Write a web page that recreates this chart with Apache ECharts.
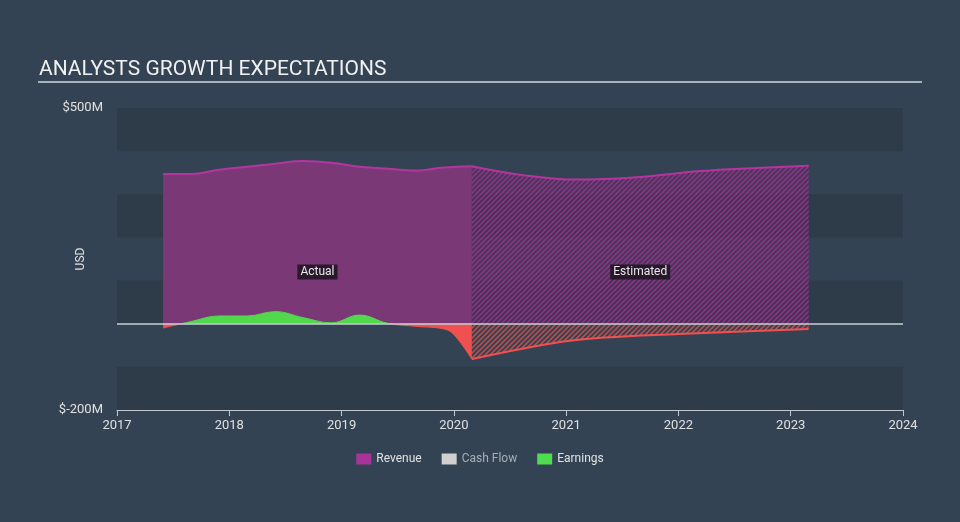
<!DOCTYPE html>
<html><head><meta charset="utf-8">
<script src="https://cdn.jsdelivr.net/npm/echarts@6/dist/echarts.min.js"></script>
<style>html,body{margin:0;padding:0;background:#344354;}#c{width:960px;height:522px;}</style>
</head><body><div id="c"></div>
<script>
// ---- data (USD millions, x = decimal year) ----
const revenueActualX = [2017.41, 2017.66, 2017.91, 2018.16, 2018.41, 2018.66, 2018.91, 2019.16, 2019.41, 2019.66, 2019.91, 2020.16];
const revenueActualY = [347, 347, 357, 364, 371, 377, 373, 364, 359, 355, 362, 365];
const revenueEstX = [2020.16, 2020.6, 2021.1, 2021.6, 2022.2, 2022.7, 2023.16];
const revenueEstY = [365, 345, 334, 339, 354, 361, 366];
const earningsActualX = [2017.41, 2017.66, 2017.91, 2018.16, 2018.41, 2018.66, 2018.91, 2019.16, 2019.41, 2019.66, 2019.91, 2020.0, 2020.16];
const earningsActualY = [-10, 5, 18, 18, 28, 14, 2, 20, 1, -6, -12, -25, -82];
const earningsEstX = [2020.16, 2021.05, 2022.0, 2023.16];
const earningsEstY = [-82, -39, -24, -12];
const xTicks = [2017, 2018, 2019, 2020, 2021, 2022, 2023, 2024];
const yLabels = {500: '$500M', '-200': '$-200M'};
const labelY = [120];

const pair = (xs, ys) => xs.map((x, i) => [x, ys[i]]);

function hatch(bg, fg) {
  const c = document.createElement('canvas');
  c.width = c.height = 5;
  const g = c.getContext('2d');
  if (bg) { g.fillStyle = bg; g.fillRect(0, 0, 5, 5); }
  g.strokeStyle = fg; g.lineWidth = 1.5;
  g.beginPath();
  g.moveTo(-1, 6); g.lineTo(6, -1);
  g.moveTo(-1, 1); g.lineTo(1, -1);
  g.moveTo(4, 6); g.lineTo(6, 4);
  g.stroke();
  return {image: c, repeat: 'repeat'};
}

const actualMid = (revenueActualX[0] + revenueActualX[revenueActualX.length - 1]) / 2;
const estMid = (revenueEstX[0] + revenueEstX[revenueEstX.length - 1]) / 2;
const tagLabel = {show: true, color: '#e8e8e8', fontSize: 12, fontFamily: 'Roboto',
  backgroundColor: 'rgba(35,22,38,0.92)', padding: [2, 3, 1, 3], position: 'inside'};

const chart = echarts.init(document.getElementById('c'), null, {renderer: 'canvas'});
chart.setOption({
  backgroundColor: '#344354',
  animation: false,
  textStyle: {fontFamily: 'Roboto'},
  title: {text: 'ANALYSTS GROWTH EXPECTATIONS', left: 34, top: 54,
    textStyle: {color: '#f0f0f0', fontSize: 21, fontWeight: 'normal', fontFamily: 'Roboto'}},
  graphic: [{type: 'line', shape: {x1: 38, y1: 82, x2: 922, y2: 82},
    style: {stroke: '#aab2ba', lineWidth: 2}}],
  grid: {left: 117, right: 57, top: 108, bottom: 112},
  legend: {bottom: 52, left: 'center', itemWidth: 15, itemHeight: 11, itemGap: 20,
    icon: 'rect', textStyle: {color: '#e2e2e2', fontSize: 12, fontWeight: 'normal'},
    data: [
      {name: 'Revenue', itemStyle: {color: '#a8349b'}},
      {name: 'Cash Flow', itemStyle: {color: '#d0d0d0'}, textStyle: {color: '#a9aeb3'}},
      {name: 'Earnings', itemStyle: {color: '#4fdc4f'}}
    ]},
  visualMap: [{show: false, type: 'piecewise', seriesIndex: 2, dimension: 1,
    pieces: [{min: -500, max: 0, color: '#f0504f'}, {gt: 0, lte: 500, color: '#52d84c'}]}],
  xAxis: {type: 'value', min: xTicks[0], max: xTicks[xTicks.length - 1], interval: 1,
    axisLine: {onZero: false, lineStyle: {color: '#c3c9ce', width: 1}},
    axisTick: {show: true, length: 6, lineStyle: {color: '#c3c9ce'}},
    axisLabel: {color: '#e0e0e0', fontSize: 13, margin: 9, formatter: v => String(v)},
    splitLine: {show: false}},
  yAxis: {type: 'value', min: -200, max: 500, interval: 100,
    name: 'USD', nameLocation: 'middle', nameGap: 30, nameRotate: 90, nameMoveOverlap: false,
    nameTextStyle: {color: '#e0e0e0', fontSize: 12},
    axisLine: {show: false}, axisTick: {show: false},
    axisLabel: {color: '#e0e0e0', fontSize: 13, margin: 14,
      formatter: v => yLabels[v] || ''},
    splitLine: {show: false},
    splitArea: {show: true, areaStyle: {color: ['#2e3b49', 'rgba(0,0,0,0)']}}},
  series: [
    {name: 'Revenue', type: 'line', data: pair(revenueActualX, revenueActualY),
      smooth: 0.4, symbol: 'none', z: 2,
      lineStyle: {color: '#b5359f', width: 2},
      itemStyle: {color: '#b5359f'},
      areaStyle: {color: '#7a3876', opacity: 1},
      markPoint: {symbol: 'rect', symbolSize: 0, label: tagLabel,
        data: [{coord: [actualMid, labelY[0]], label: {formatter: 'Actual'}}]}},
    {name: 'Revenue', type: 'line', data: pair(revenueEstX, revenueEstY),
      smooth: 0.4, symbol: 'none', z: 2,
      lineStyle: {color: '#b5359f', width: 2},
      itemStyle: {color: '#b5359f'},
      areaStyle: {color: hatch('rgba(90,45,95,0.55)', 'rgba(150,52,140,0.95)'), opacity: 1},
      markPoint: {symbol: 'rect', symbolSize: 0, label: tagLabel,
        data: [{coord: [estMid, labelY[0]], label: {formatter: 'Estimated'}}]}},
    {name: 'Earnings', type: 'line', data: pair(earningsActualX, earningsActualY),
      smooth: 0.4, symbol: 'none', z: 3,
      lineStyle: {width: 1},
      areaStyle: {opacity: 1}},
    {name: 'Earnings', type: 'line', data: pair(earningsEstX, earningsEstY),
      smooth: 0.3, symbol: 'none', z: 3,
      lineStyle: {color: '#f0504f', width: 2},
      itemStyle: {color: '#f0504f'},
      areaStyle: {color: hatch(null, 'rgba(225,80,75,0.85)'), opacity: 1},
      markLine: {silent: true, symbol: 'none', label: {show: false},
        lineStyle: {color: '#c9cfd4', width: 1.5, type: 'solid'},
        data: [{yAxis: 0}]}},
    {name: 'Cash Flow', type: 'line', data: [], itemStyle: {color: '#d0d0d0'}}
  ]
});
</script></body></html>
